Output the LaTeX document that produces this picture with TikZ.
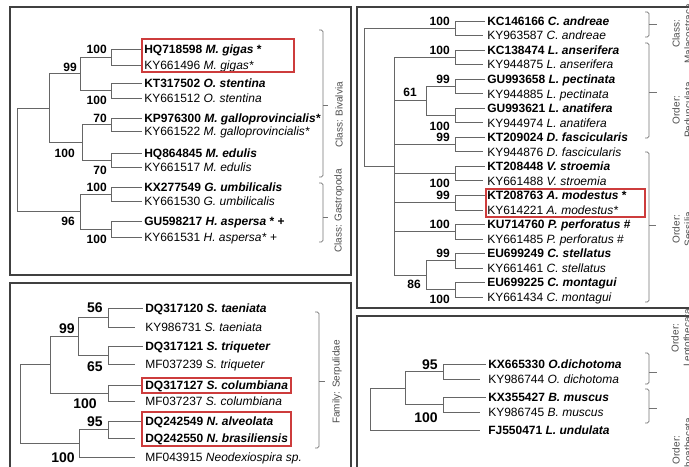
\documentclass[tikz,border=0pt]{standalone}
\usepackage{fontspec}
\setmainfont{Liberation Sans}
\definecolor{boxred}{RGB}{205,60,60}

\begin{document}
\begin{tikzpicture}[x=0.75pt, y=-0.75pt,
  br/.style={draw=black!60, line width=0.6pt},
  twig/.style={br, shorten >=#1}, twig/.default=0pt,
  seq/.style={anchor=west, inner xsep=1.5pt, text height=6.6pt, text depth=0pt, font=\fontsize{9}{10}\selectfont},
  ref/.style={seq, font=\fontsize{9}{10}\selectfont\bfseries},
  boot/.style={anchor=east, inner sep=0pt, text height=6.6pt, text depth=0pt, font=\fontsize{9}{10}\selectfont\bfseries},
  bootbig/.style={boot, text height=7.6pt, font=\fontsize{10.5}{12}\selectfont\bfseries},
  panel/.style={draw=black!75, line width=1.4pt},
  hilite/.style={draw=boxred, line width=1pt},
  grp/.style={draw=black!55, line width=0.6pt, rounded corners=1.2pt},
  grplabel/.style={rotate=90, inner sep=0pt, font=\fontsize{7.5}{9}\selectfont, text=black!70, align=center}]
\useasboundingbox (0,0) rectangle (689,467);
\clip (0,0) rectangle (689,467);

% panel A: molluscs
\draw[panel] (10,7) rectangle (351,275);
\node[ref] (a1) at (142,49) {HQ718598 \textit{M. gigas} *};
\node[seq] (a2) at (142,65) {KY661496 \textit{M. gigas*}};
\node[ref] (a3) at (142,83) {KT317502 \textit{O. stentina}};
\node[seq] (a4) at (142,98) {KY661512 \textit{O. stentina}};
\node[ref] (a5) at (142,118) {KP976300 \textit{M. galloprovincialis*}};
\node[seq] (a6) at (142,131) {KY661522 \textit{M. galloprovincialis*}};
\node[ref] (a7) at (142,153) {HQ864845 \textit{M. edulis}};
\node[seq] (a8) at (142,167) {KY661517 \textit{M. edulis}};
\node[ref] (a9) at (142,187) {KX277549 \textit{G. umbilicalis}};
\node[seq] (a10) at (142,201) {KY661530 \textit{G. umbilicalis}};
\node[ref] (a11) at (142,221) {GU598217 \textit{H. aspersa} * +};
\node[seq] (a12) at (142,237) {KY661531 \textit{H. aspersa*} +};
\coordinate (ngig) at (111,57);
\coordinate (nste) at (111,90.5);
\coordinate (ngal) at (111,124.5);
\coordinate (nedu) at (111,160);
\coordinate (numb) at (111,194);
\coordinate (nasp) at (111,229);
\coordinate (ncra) at (80,73.75);
\coordinate (nmyt) at (82,142.25);
\coordinate (ngas) at (80,211.5);
\coordinate (nbiv) at (49,108);
\coordinate (rta) at (17,159.75);
\draw[twig] (ngig) |- (a1.west) (ngig) |- (a2.west);
\draw[twig] (nste) |- (a3.west) (nste) |- (a4.west);
\draw[twig] (ngal) |- (a5.west) (ngal) |- (a6.west);
\draw[twig] (nedu) |- (a7.west) (nedu) |- (a8.west);
\draw[twig] (numb) |- (a9.west) (numb) |- (a10.west);
\draw[twig] (nasp) |- (a11.west) (nasp) |- (a12.west);
\draw[br] (ncra) |- (ngig) (ncra) |- (nste);
\draw[br] (nmyt) |- (ngal) (nmyt) |- (nedu);
\draw[br] (ngas) |- (numb) (ngas) |- (nasp);
\draw[br] (nbiv) |- (ncra) (nbiv) |- (nmyt);
\draw[br] (rta) |- (nbiv) (rta) |- (ngas);
\node[boot] (sa1) at (107,49) {100};
\node[boot] (sa2) at (77,67) {99};
\node[boot] (sa3) at (107,100) {100};
\node[boot] (sa4) at (107,118) {70};
\node[boot] (sa5) at (75,153) {100};
\node[boot] (sa6) at (107,170) {70};
\node[boot] (sa7) at (107,187) {100};
\node[boot] (sa8) at (75,221) {96};
\node[boot] (sa9) at (107,239) {100};
\draw[hilite] (142,39) rectangle (294,72);
\draw[grp] (319,30) -- (323,30) -- (323,177) -- (319,177);
\draw[grp] (323,105) -- (328,105);
\draw[grp] (319,183) -- (323,183) -- (323,242) -- (319,242);
\draw[grp] (323,217) -- (328,217);
\node[grplabel] (bival) at (339,115) {Class: Bivalvia};
\node[grplabel] (gastro) at (339,211) {Class: Gastropoda};

% panel B: barnacles
\draw[panel] (357,7) rectangle (700,308);
\node[ref] (b1) at (485,21.0) {KC146166 \textit{C. andreae}};
\node[seq] (b2) at (485,35.5) {KY963587 \textit{C. andreae}};
\node[ref] (b3) at (485,50.1) {KC138474 \textit{L. anserifera}};
\node[seq] (b4) at (485,64.6) {KY944875 \textit{L. anserifera}};
\node[ref] (b5) at (485,79.1) {GU993658 \textit{L. pectinata}};
\node[seq] (b6) at (485,93.7) {KY944885 \textit{L. pectinata}};
\node[ref] (b7) at (485,108.2) {GU993621 \textit{L. anatifera}};
\node[seq] (b8) at (485,122.7) {KY944974 \textit{L. anatifera}};
\node[ref] (b9) at (485,137.2) {KT209024 \textit{D. fascicularis}};
\node[seq] (b10) at (485,151.8) {KY944876 \textit{D. fascicularis}};
\node[ref] (b11) at (485,166.3) {KT208448 \textit{V. stroemia}};
\node[seq] (b12) at (485,180.8) {KY661488 \textit{V. stroemia}};
\node[ref] (b13) at (485,195.4) {KT208763 \textit{A. modestus} *};
\node[seq] (b14) at (485,209.9) {KY614221 \textit{A. modestus*}};
\node[ref] (b15) at (485,224.4) {KU714760 \textit{P. perforatus} \#};
\node[seq] (b16) at (485,238.9) {KY661485 \textit{P. perforatus} \#};
\node[ref] (b17) at (485,253.5) {EU699249 \textit{C. stellatus}};
\node[seq] (b18) at (485,268.0) {KY661461 \textit{C. stellatus}};
\node[ref] (b19) at (485,282.5) {EU699225 \textit{C. montagui}};
\node[seq] (b20) at (485,297.0) {KY661434 \textit{C. montagui}};
\coordinate (nand) at (455,28.25);
\coordinate (nans) at (455,57.35);
\coordinate (npec) at (455,86.4);
\coordinate (nana) at (455,115.45);
\coordinate (nfas) at (455,144.5);
\coordinate (nstr) at (455,173.55);
\coordinate (nmod) at (455,202.65);
\coordinate (nper) at (455,231.65);
\coordinate (nste2) at (455,260.75);
\coordinate (nmon) at (455,289.75);
\coordinate (nlep) at (426,100.9);
\coordinate (ncht) at (426,275.25);
\coordinate (nthr) at (394,166.3);
\coordinate (rtb) at (364,97.3);
\draw[twig=1.5pt] (nand) |- (b1.west) (nand) |- (b2.west);
\draw[twig=1.5pt] (nans) |- (b3.west) (nans) |- (b4.west);
\draw[twig=1.5pt] (npec) |- (b5.west) (npec) |- (b6.west);
\draw[twig=1.5pt] (nana) |- (b7.west) (nana) |- (b8.west);
\draw[twig=1.5pt] (nfas) |- (b9.west) (nfas) |- (b10.west);
\draw[twig=1.5pt] (nstr) |- (b11.west) (nstr) |- (b12.west);
\draw[twig=1.5pt] (nmod) |- (b13.west) (nmod) |- (b14.west);
\draw[twig=1.5pt] (nper) |- (b15.west) (nper) |- (b16.west);
\draw[twig=1.5pt] (nste2) |- (b17.west) (nste2) |- (b18.west);
\draw[twig=1.5pt] (nmon) |- (b19.west) (nmon) |- (b20.west);
\draw[br] (nlep) |- (npec) (nlep) |- (nana);
\draw[br] (ncht) |- (nste2) (ncht) |- (nmon);
\draw[br] (nthr) |- (nans) (nthr) |- (nlep) (nthr) |- (nfas) (nthr) |- (nstr)
  (nthr) |- (nmod) (nthr) |- (nper) (nthr) |- (ncht);
\draw[br] (rtb) |- (nand) (rtb) |- (nthr);
\node[boot] (sb1) at (450,21) {100};
\node[boot] (sb2) at (450,50) {100};
\node[boot] (sb3) at (450,79) {99};
\node[boot] (sb4) at (417,92) {61};
\node[boot] (sb5) at (450,126) {100};
\node[boot] (sb6) at (450,137.5) {99};
\node[boot] (sb7) at (450,183) {100};
\node[boot] (sb8) at (450,195.5) {99};
\node[boot] (sb9) at (450,224.5) {100};
\node[boot] (sb10) at (450,253.5) {99};
\node[boot] (sb11) at (421,284) {86};
\node[boot] (sb12) at (450,299) {100};
\draw[hilite] (486,189) rectangle (645,217);
\draw[grp] (645,12) -- (649,12) -- (649,37) -- (645,37);
\draw[grp] (649,24.5) -- (657,24.5);
\draw[grp] (645,43) -- (649,43) -- (649,138) -- (645,138);
\draw[grp] (649,92) -- (657,92);
\draw[grp] (645,152) -- (649,152) -- (649,302) -- (645,302);
\draw[grp] (649,225) -- (656,225);
\node[grplabel] (malac) at (682,34) {Class:\\Malacostraca};
\node[grplabel] (pedun) at (682,110) {Order:\\Pedunculata};
\node[grplabel] (sessi) at (682,229) {Order:\\Sessilia};

% panel C: tube worms
\draw[panel] (10,283) rectangle (351,480);
\node[ref] (c1) at (143,308) {DQ317120 \textit{S. taeniata}};
\node[seq] (c2) at (143,327) {KY986731 \textit{S. taeniata}};
\node[ref] (c3) at (143,346) {DQ317121 \textit{S. triqueter}};
\node[seq] (c4) at (143,364) {MF037239 \textit{S. triqueter}};
\node[ref] (c5) at (143,385) {DQ317127 \textit{S. columbiana}};
\node[seq] (c6) at (143,401) {MF037237 \textit{S. columbiana}};
\node[ref] (c7) at (143,421) {DQ242549 \textit{N. alveolata}};
\node[ref] (c8) at (143,438) {DQ242550 \textit{N. brasiliensis}};
\node[seq] (c9) at (143,457) {MF043915 \textit{Neodexiospira sp.}};
\coordinate (ntae) at (108,317.5);
\coordinate (ntri) at (108,355);
\coordinate (ncol) at (108,393);
\coordinate (nalv) at (108,429.5);
\coordinate (nspi) at (78,336.25);
\coordinate (nupc) at (50,364.6);
\coordinate (nneo) at (79,443.25);
\coordinate (rtc) at (20,403.9);
\draw[twig=6pt] (ntae) |- (c1.west) (ntae) |- (c2.west);
\draw[twig=6pt] (ntri) |- (c3.west) (ntri) |- (c4.west);
\draw[twig=6pt] (ncol) |- (c5.west) (ncol) |- (c6.west);
\draw[twig=6pt] (nalv) |- (c7.west) (nalv) |- (c8.west);
\draw[twig=6pt] (nneo) |- (c9.west);
\draw[br] (nspi) |- (ntae) (nspi) |- (ntri);
\draw[br] (nupc) |- (nspi) (nupc) |- (ncol);
\draw[br] (nneo) |- (nalv);
\draw[br] (rtc) |- (nupc) (rtc) |- (nneo);
\node[bootbig] (sc1) at (103,307) {56};
\node[bootbig] (sc2) at (75,328) {99};
\node[bootbig] (sc3) at (103,366) {65};
\node[bootbig] (sc4) at (97,403) {100};
\node[bootbig] (sc5) at (103,421) {95};
\node[bootbig] (sc6) at (75,457) {100};
\draw[hilite] (142,378) rectangle (291,393);
\draw[hilite] (142,412) rectangle (291,446);
\draw[grp] (315,312) -- (319,312) -- (319,448) -- (315,448);
\draw[grp] (319,381) -- (325,381);
\node[grplabel] (serp) at (337,382) {Family: Serpulidae};

% panel D: hydroids
\draw[panel] (357,316) rectangle (700,480);
\node[ref] (d1) at (486,364) {KX665330 \textit{O.dichotoma}};
\node[seq] (d2) at (486,379) {KY986744 \textit{O. dichotoma}};
\node[ref] (d3) at (486,397) {KX355427 \textit{B. muscus}};
\node[seq] (d4) at (486,412) {KY986745 \textit{B. muscus}};
\node[ref] (d5) at (486,430) {FJ550471 \textit{L. undulata}};
\coordinate (ndic) at (443,371.5);
\coordinate (nmus) at (443,404.5);
\coordinate (nhyd) at (405,388);
\coordinate (rtd) at (370,409);
\draw[twig=4.5pt] (ndic) |- (d1.west) (ndic) |- (d2.west);
\draw[twig=4.5pt] (nmus) |- (d3.west) (nmus) |- (d4.west);
\draw[twig=4.5pt] (rtd) |- (d5.west);
\draw[br] (nhyd) |- (ndic) (nhyd) |- (nmus);
\draw[br] (rtd) |- (nhyd);
\node[bootbig] (sd1) at (438,364) {95};
\node[bootbig] (sd2) at (438,417) {100};
\draw[grp] (645,353) -- (649,353) -- (649,384) -- (645,384);
\draw[grp] (649,372) -- (657,372);
\draw[grp] (645,389) -- (649,389) -- (649,423) -- (645,423);
\draw[grp] (649,408) -- (657,408);
\node[grplabel] (lepto) at (682,338) {Order:\\Leptothecata};
\node[grplabel] (antho) at (682,450) {Order:\\Anthoathecata};
\end{tikzpicture}
\end{document}
